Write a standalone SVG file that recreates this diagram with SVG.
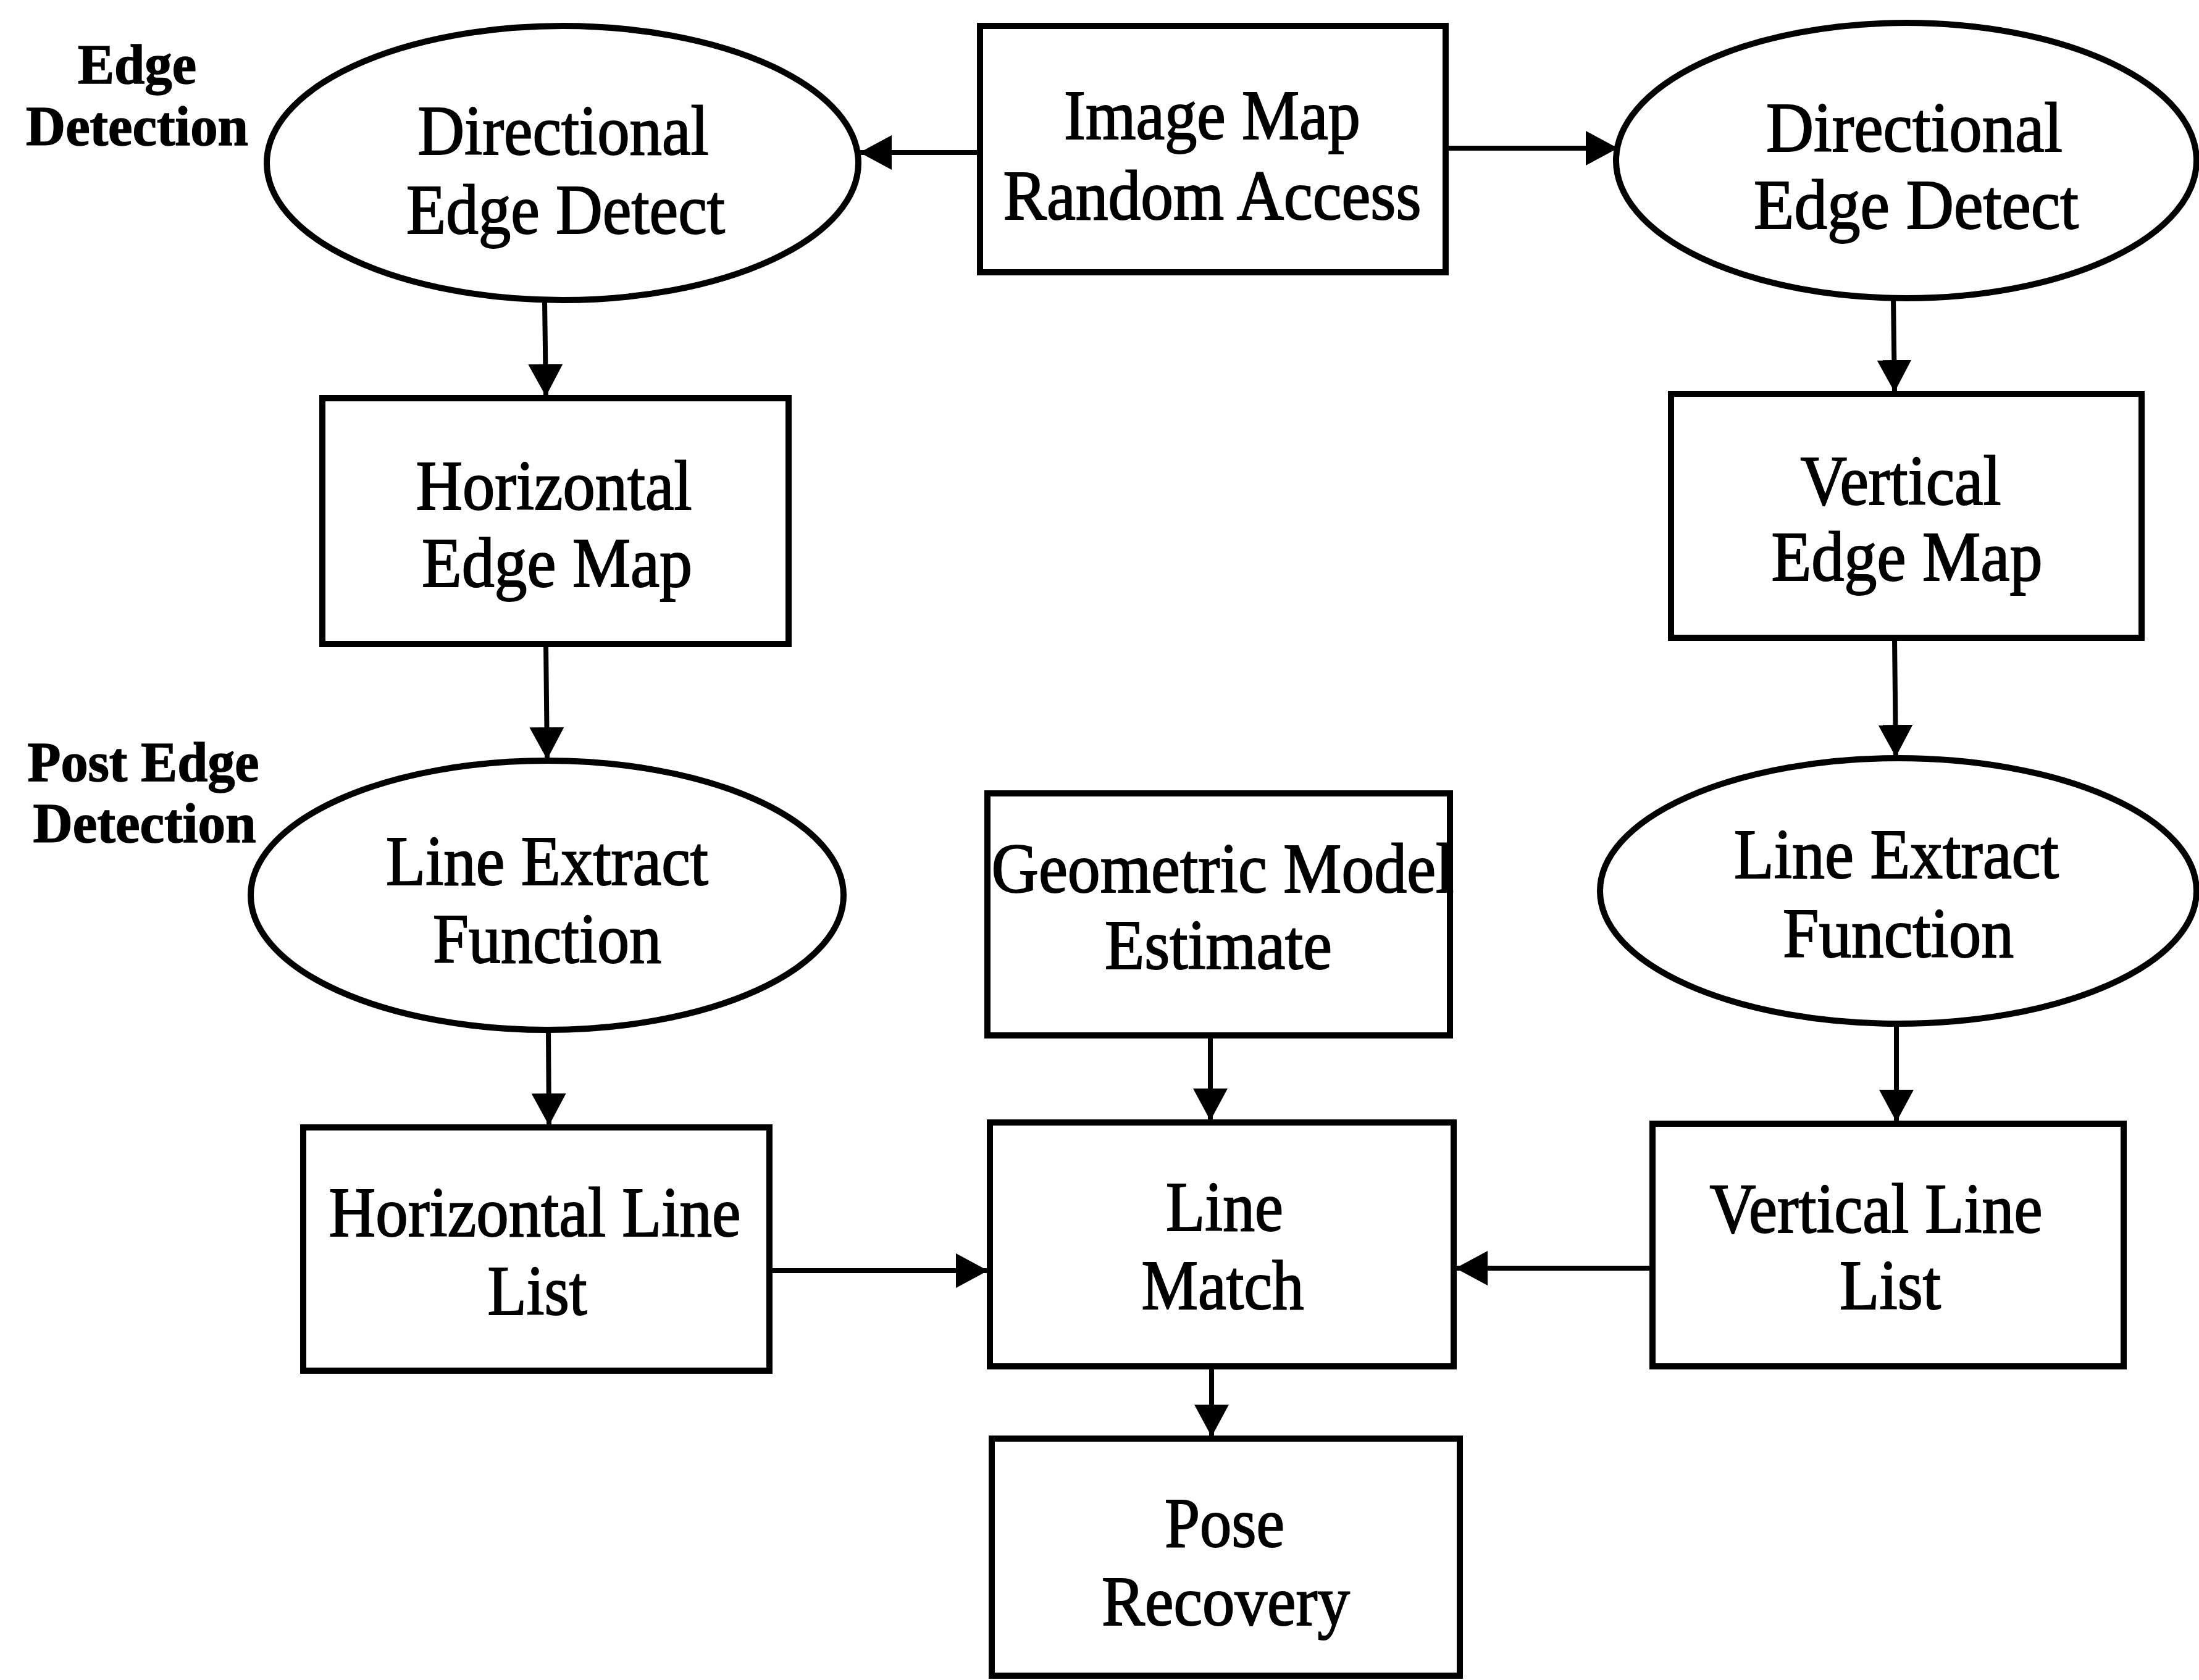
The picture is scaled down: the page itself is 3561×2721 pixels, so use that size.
<svg xmlns="http://www.w3.org/2000/svg" width="3561" height="2721" viewBox="0 0 3561 2721">
<style>
.shape{fill:#fff;stroke:#000;stroke-width:10}
.lbl{font-family:"Liberation Serif","Times New Roman",serif;font-size:114px;fill:#000;stroke:#000;stroke-width:2;text-anchor:middle}
.side{font-family:"Liberation Serif","Times New Roman",serif;font-size:90px;font-weight:bold;fill:#000;stroke:#000;stroke-width:1.5;text-anchor:middle}
.conn{fill:none;stroke:#000;stroke-width:8}
</style>
<defs>
<marker id="arr" markerUnits="userSpaceOnUse" markerWidth="54" markerHeight="56" refX="52" refY="28" orient="auto">
<path d="M0,0 L52,28 L0,56 z" fill="#000"/>
</marker>
</defs>
<rect width="3561" height="2721" fill="#fff"/>

<g id="label-edge-detection">
<text class="side" x="222" y="135" textLength="192" lengthAdjust="spacingAndGlyphs">Edge</text>
<text class="side" x="222" y="235" textLength="360" lengthAdjust="spacingAndGlyphs">Detection</text>
</g>
<g id="label-post-edge-detection">
<text class="side" x="232" y="1265" textLength="375" lengthAdjust="spacingAndGlyphs">Post Edge</text>
<text class="side" x="234" y="1364" textLength="361" lengthAdjust="spacingAndGlyphs">Detection</text>
</g>

<g id="connectors">
<line class="conn" x1="1587" y1="247" x2="1392" y2="247" marker-end="url(#arr)"/>
<line class="conn" x1="2341" y1="240" x2="2620" y2="240" marker-end="url(#arr)"/>
<line class="conn" x1="882" y1="488" x2="884" y2="642" marker-end="url(#arr)"/>
<line class="conn" x1="884" y1="1043" x2="886" y2="1230" marker-end="url(#arr)"/>
<line class="conn" x1="3066" y1="483" x2="3068" y2="635" marker-end="url(#arr)"/>
<line class="conn" x1="3068" y1="1033" x2="3070" y2="1226" marker-end="url(#arr)"/>
<line class="conn" x1="888" y1="1668" x2="889" y2="1823" marker-end="url(#arr)"/>
<line class="conn" x1="1960" y1="1677" x2="1960" y2="1815" marker-end="url(#arr)"/>
<line class="conn" x1="3071" y1="1658" x2="3071" y2="1817" marker-end="url(#arr)"/>
<line class="conn" x1="1246" y1="2058" x2="1600" y2="2058" marker-end="url(#arr)"/>
<line class="conn" x1="2676" y1="2054" x2="2357" y2="2054" marker-end="url(#arr)"/>
<line class="conn" x1="1962" y1="2213" x2="1962" y2="2327" marker-end="url(#arr)"/>
</g>

<g id="node-image-map">
<rect class="shape" x="1587" y="42" width="754" height="399"/>
<text class="lbl" x="1963" y="225" textLength="480" lengthAdjust="spacingAndGlyphs">Image Map</text>
<text class="lbl" x="1963" y="355" textLength="677" lengthAdjust="spacingAndGlyphs">Random Access</text>
</g>

<g id="node-dir-edge-left">
<ellipse class="shape" cx="911" cy="264" rx="479" ry="222"/>
<text class="lbl" x="912" y="250" textLength="471" lengthAdjust="spacingAndGlyphs">Directional</text>
<text class="lbl" x="916" y="378" textLength="516" lengthAdjust="spacingAndGlyphs">Edge Detect</text>
</g>

<g id="node-dir-edge-right">
<ellipse class="shape" cx="3087" cy="260" rx="470" ry="223"/>
<text class="lbl" x="3100" y="245" textLength="480" lengthAdjust="spacingAndGlyphs">Directional</text>
<text class="lbl" x="3103" y="370" textLength="526" lengthAdjust="spacingAndGlyphs">Edge Detect</text>
</g>

<g id="node-horizontal-edge-map">
<rect class="shape" x="522" y="645" width="755" height="398"/>
<text class="lbl" x="897" y="825" textLength="447" lengthAdjust="spacingAndGlyphs">Horizontal</text>
<text class="lbl" x="902" y="950" textLength="438" lengthAdjust="spacingAndGlyphs">Edge Map</text>
</g>

<g id="node-vertical-edge-map">
<rect class="shape" x="2706" y="638" width="762" height="395"/>
<text class="lbl" x="3078" y="817" textLength="325" lengthAdjust="spacingAndGlyphs">Vertical</text>
<text class="lbl" x="3088" y="940" textLength="439" lengthAdjust="spacingAndGlyphs">Edge Map</text>
</g>

<g id="node-line-extract-left">
<ellipse class="shape" cx="886" cy="1450" rx="480" ry="218"/>
<text class="lbl" x="886" y="1433" textLength="522" lengthAdjust="spacingAndGlyphs">Line Extract</text>
<text class="lbl" x="886" y="1559" textLength="370" lengthAdjust="spacingAndGlyphs">Function</text>
</g>

<g id="node-line-extract-right">
<ellipse class="shape" cx="3074" cy="1443" rx="483" ry="215"/>
<text class="lbl" x="3071" y="1422" textLength="526" lengthAdjust="spacingAndGlyphs">Line Extract</text>
<text class="lbl" x="3074" y="1550" textLength="374" lengthAdjust="spacingAndGlyphs">Function</text>
</g>

<g id="node-geometric-model">
<rect class="shape" x="1599" y="1285" width="749" height="392"/>
<text class="lbl" x="1980" y="1445" textLength="749" lengthAdjust="spacingAndGlyphs">Geometric Model</text>
<text class="lbl" x="1973" y="1569" textLength="368" lengthAdjust="spacingAndGlyphs">Estimate</text>
</g>

<g id="node-horizontal-line-list">
<rect class="shape" x="491" y="1826" width="755" height="394"/>
<text class="lbl" x="866" y="2002" textLength="667" lengthAdjust="spacingAndGlyphs">Horizontal Line</text>
<text class="lbl" x="870" y="2129" textLength="161" lengthAdjust="spacingAndGlyphs">List</text>
</g>

<g id="node-line-match">
<rect class="shape" x="1603" y="1818" width="751" height="395"/>
<text class="lbl" x="1983" y="1993" textLength="190" lengthAdjust="spacingAndGlyphs">Line</text>
<text class="lbl" x="1980" y="2120" textLength="263" lengthAdjust="spacingAndGlyphs">Match</text>
</g>

<g id="node-vertical-line-list">
<rect class="shape" x="2676" y="1820" width="763" height="393"/>
<text class="lbl" x="3038" y="1996" textLength="539" lengthAdjust="spacingAndGlyphs">Vertical Line</text>
<text class="lbl" x="3061" y="2120" textLength="164" lengthAdjust="spacingAndGlyphs">List</text>
</g>

<g id="node-pose-recovery">
<rect class="shape" x="1606" y="2330" width="758" height="384"/>
<text class="lbl" x="1983" y="2505" textLength="194" lengthAdjust="spacingAndGlyphs">Pose</text>
<text class="lbl" x="1985" y="2632" textLength="402" lengthAdjust="spacingAndGlyphs">Recovery</text>
</g>
</svg>
